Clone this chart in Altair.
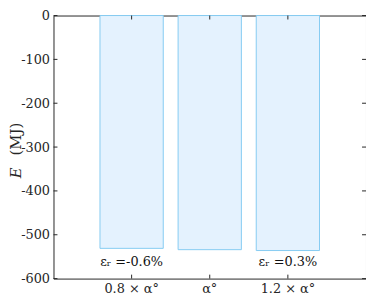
import altair as alt
import pandas as pd

categories = ["0.8 × α°", "α°", "1.2 × α°"]
energy = [-531, -534, -536]
notes = ["εᵣ =-0.6%", "", "εᵣ =0.3%"]
note_y = -562
y_ticks = [0, -100, -200, -300, -400, -500, -600]
title_parts = ["E", "(MJ)"]

FONT = "DejaVu Serif"
FILL = "#E4F2FE"
EDGE = "#86CBF2"
INK = "#262626"

W, H = 316, 266

bars_df = pd.DataFrame({"cat": categories, "E": energy})
notes_df = pd.DataFrame({"cat": categories, "note": notes, "y": [note_y] * 3})
yt_df = pd.DataFrame({"t": y_ticks})
xt_df = pd.DataFrame({"cat": categories})

xscale = alt.Scale(domain=categories, paddingInner=0.19, paddingOuter=0.595)
yscale = alt.Scale(domain=[-600, 0], nice=False)

bars = alt.Chart(bars_df).mark_bar(fill=FILL, stroke=EDGE, strokeWidth=1).encode(
    x=alt.X("cat:N", scale=xscale, sort=categories,
            axis=alt.Axis(title=None, labelAngle=0, domain=False, ticks=False,
                          labelFont=FONT, labelFontSize=13, labelColor=INK,
                          labelPadding=4)),
    y=alt.Y("E:Q", scale=yscale,
            axis=alt.Axis(title=None, values=y_ticks, grid=False, domain=False,
                          ticks=False, labelFont=FONT, labelFontSize=13,
                          labelExpr="datum.value + ''",
                          labelColor=INK, labelPadding=4)),
    y2=alt.datum(0),
)

text = alt.Chart(notes_df).mark_text(font=FONT, fontSize=13, color="#111", baseline="middle").encode(
    x=alt.X("cat:N", scale=xscale, sort=categories),
    y=alt.Y("y:Q", scale=yscale),
    text="note:N",
)

title_e = alt.Chart(pd.DataFrame({"t": [title_parts[0]]})).mark_text(
    font=FONT, fontSize=15, fontStyle="italic", color=INK, angle=270,
    align="center", baseline="middle").encode(
    x=alt.value(-38), y=alt.value(159), text="t:N")
title_u = alt.Chart(pd.DataFrame({"t": [title_parts[1]]})).mark_text(
    font=FONT, fontSize=15, color=INK, angle=270,
    align="center", baseline="middle").encode(
    x=alt.value(-38), y=alt.value(125), text="t:N")

yl = alt.Chart(yt_df).mark_rule(color=INK, strokeWidth=1).encode(
    y=alt.Y("t:Q", scale=yscale), x=alt.value(0), x2=alt.value(4))
yr = alt.Chart(yt_df).mark_rule(color=INK, strokeWidth=1).encode(
    y=alt.Y("t:Q", scale=yscale), x=alt.value(W - 4), x2=alt.value(W))
xb = alt.Chart(xt_df).mark_rule(color=INK, strokeWidth=1).encode(
    x=alt.X("cat:N", scale=xscale, sort=categories), y=alt.value(H - 4), y2=alt.value(H))
xtp = alt.Chart(xt_df).mark_rule(color=INK, strokeWidth=1).encode(
    x=alt.X("cat:N", scale=xscale, sort=categories), y=alt.value(0), y2=alt.value(4))

chart = alt.layer(bars, text, title_e, title_u, yl, yr, xb, xtp).properties(
    width=W, height=H,
    autosize=alt.AutoSizeParams(type="none"),
    padding={"left": 46, "top": 6, "right": 0, "bottom": 18},
    background="white",
).configure_view(stroke=INK, strokeWidth=1, clip=False)

chart.save("out.html", embed_options={"renderer": "svg", "actions": False})
